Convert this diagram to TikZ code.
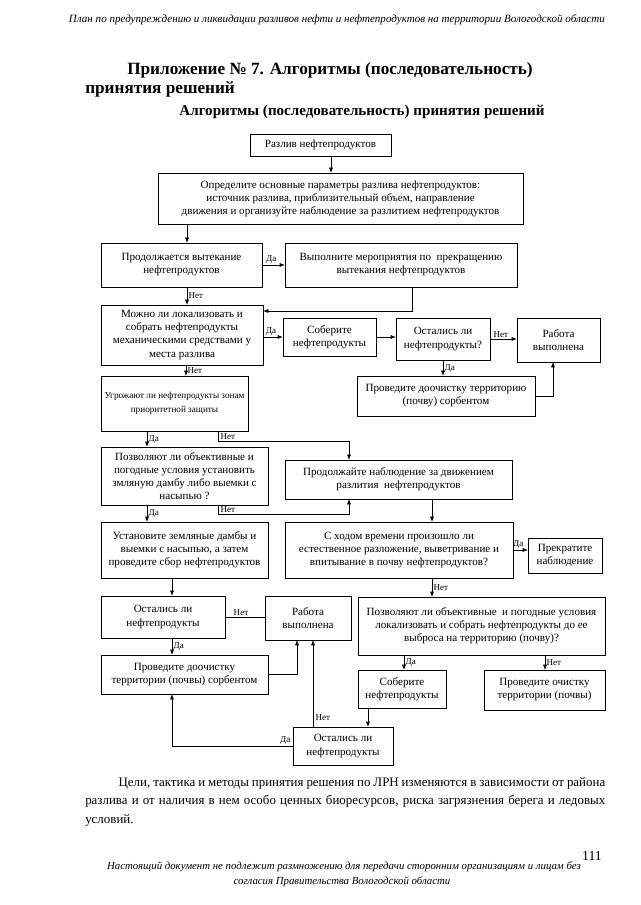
\documentclass[tikz,border=0pt]{standalone}
\usepackage{fontspec}
\setmainfont{Liberation Serif}
\usetikzlibrary{arrows.meta}
\tikzset{
  box/.style={draw, line width=0.6pt, inner sep=1pt, outer sep=0pt, align=center,
    font=\fontsize{8.3}{9.8}\selectfont},
  conn/.style={line width=0.5pt},
  arr/.style={conn, -{Latex[length=4pt,width=3pt]}},
  lbl/.style={font=\fontsize{6.8}{8}\selectfont, inner sep=1pt},
}
\newcommand\mybox[7][]{\node[box, #1, minimum width={(#5-#3)*0.75pt}, minimum height={(#6-#4)*0.75pt}] (#2) at ({(#3+#5)/2},{(#4+#6)/2}) {#7};}
\begin{document}
\begin{tikzpicture}[x=0.75pt,y=-0.75pt]
\useasboundingbox (0,0) rectangle (640,905);
\fill[white] (0,0) rectangle (640,905);
% header
\node[font=\itshape\fontsize{8.3}{9}\selectfont] (hdr) at (337,20) {План по предупреждению и ликвидации разливов нефти и нефтепродуктов на территории Вологодской области};
\node[anchor=west, font=\bfseries\fontsize{12.9}{15}\selectfont, inner sep=0pt] (t1) at (127,70) {Приложение № 7. Алгоритмы (последовательность)};
\node[anchor=west, font=\bfseries\fontsize{12.9}{15}\selectfont, inner sep=0pt] (t2) at (85,89) {принятия решений};
\node[font=\bfseries\fontsize{11.3}{14}\selectfont, inner sep=0pt] (t3) at (362,112) {Алгоритмы (последовательность) принятия решений};
% boxes
\mybox{A}{250}{134}{391}{156}{Разлив нефтепродуктов}
\mybox{B}{158}{173}{523}{224}{Определите основные параметры разлива нефтепродуктов:\\ источник разлива, приблизительный объем, направление\\ движения и организуйте наблюдение за разлитием нефтепродуктов}
\mybox{C}{101}{243}{262}{287}{Продолжается вытекание\\ нефтепродуктов}
\mybox{D}{285}{243}{517}{287}{Выполните мероприятия по\ \ прекращению\\ вытекания нефтепродуктов}
\mybox{E}{101}{305}{263}{365}{Можно ли локализовать и\\ собрать нефтепродукты\\ механическими средствами у\\ места разлива}
\mybox{F}{283}{318}{376}{356}{Соберите\\ нефтепродукты}
\mybox{G}{396}{318}{490}{360}{Остались ли\\ нефтепродукты?}
\mybox{H}{517}{318}{600}{362}{Работа\\ выполнена}
\mybox{I}{357}{376}{535}{416}{Проведите доочистку территорию\\ (почву) сорбентом}
\mybox[font=\fontsize{6.9}{10.5}\selectfont, inner sep=0pt]{J}{101}{376}{248}{431}{Угрожают ли нефтепродукты зонам\\ приоритетной защиты}
\mybox{K}{101}{447}{268}{505}{Позволяют ли объективные и\\ погодные условия установить\\ змляную дамбу либо выемки с\\ насыпью ?}
\mybox{L}{285}{460}{512}{499}{Продолжайте наблюдение за движением\\ разлития\ \ нефтепродуктов}
\mybox{M}{101}{522}{268}{578}{Установите земляные дамбы и\\ выемки с насыпью, а затем\\ проведите сбор нефтепродуктов}
\mybox{N}{285}{522}{513}{578}{С ходом времени произошло ли\\ естественное разложение, выветривание и\\ впитывание в почву нефтепродуктов?}
\mybox{O}{528}{538}{602}{573}{Прекратите\\ наблюдение}
\mybox{P}{358}{597}{605}{655}{Позволяют ли объективные\ \ и погодные условия\\ локализовать и собрать нефтепродукты до ее\\ выброса на территорию (почву)?}
\mybox{Q}{101}{596}{225}{638}{Остались ли\\ нефтепродукты}
\mybox{R}{265}{596}{351}{640}{Работа\\ выполнена}
\mybox{S}{101}{655}{268}{694}{Проведите доочистку\\ территории (почвы) сорбентом}
\mybox{T}{358}{670}{446}{708}{Соберите\\ нефтепродукты}
\mybox{U}{484}{670}{605}{710}{Проведите очистку\\ территории (почвы)}
\mybox{V}{293}{727}{393}{765}{Остались ли\\ нефтепродукты}
% connectors
\draw[arr] (A.south -| 331,0) -- (B.north -| 331,0);
\draw[arr] (B.south -| 187,0) -- (C.north -| 187,0);
\draw[arr] (C.east) -- (D.west |- C.east) node[lbl, pos=0.4, above] {Да};
\draw[arr] (C.south -| 187,0) -- (E.north -| 187,0) node[lbl, midway, right] {Нет};
\draw[arr] (D.south -| 412,0) |- (E.east |- 0,311);
\draw[arr] (E.east |- F.west) -- (F.west) node[lbl, pos=0.4, above] {Да};
\draw[arr] (F.east) -- (G.west |- F.east);
\draw[arr] (G.east) -- (H.west |- G.east) node[lbl, pos=0.4, above] {Нет};
\draw[arr] (G.south) -- (G.south |- I.north) node[lbl, midway, right] {Да};
\draw[arr] (I.east) -| (H.south -| 553,0);
\draw[arr] (E.south -| 186,0) -- (J.north -| 186,0) node[lbl, midway, right] {Нет};
\draw[arr] (J.south -| 147,0) -- (K.north -| 147,0) node[lbl, midway, right] {Да};
\draw[arr] (J.south -| 218,0) -- (218,441) -| (L.north -| 349,0);
\node[lbl, anchor=south west] (nt1) at (219,441) {Нет};
\draw[arr] (K.south -| 218,0) -- (218,514) -| (L.south -| 349,0);
\node[lbl, anchor=south west] (nt2) at (219,514) {Нет};
\draw[arr] (K.south -| 147,0) -- (M.north -| 147,0) node[lbl, midway, right] {Да};
\draw[arr] (L.south -| 432,0) -- (N.north -| 432,0);
\draw[arr] (N.east) -- (O.west |- N.east) node[lbl, pos=0.35, above] {Да};
\draw[arr] (N.south -| 432,0) -- (P.north -| 432,0) node[lbl, midway, right] {Нет};
\draw[arr] (M.south -| 172,0) -- (Q.north -| 172,0);
\draw[conn] (Q.east) -- (R.west |- Q.east) node[lbl, pos=0.4, above] {Нет};
\draw[arr] (Q.south -| 172,0) -- (S.north -| 172,0) node[lbl, midway, right] {Да};
\draw[arr] (S.east) -| (R.south -| 297,0);
\draw[arr] (P.south -| 404,0) -- (T.north -| 404,0) node[lbl, midway, right] {Да};
\draw[arr] (P.south -| 545,0) -- (U.north -| 545,0) node[lbl, midway, right] {Нет};
\draw[arr] (T.south -| 368,0) -- (V.north -| 368,0);
\draw[arr] (V.north -| 313,0) -- (R.south -| 313,0);
\node[lbl, anchor=west] (nt3) at (314,718) {Нет};
\draw[arr] (V.west) -| (S.south -| 172,0);
\node[lbl, anchor=south east] (da3) at (292,746) {Да};
% paragraph
\node[anchor=north west, text width=390pt, align=justify, inner sep=0pt,
  font=\fontsize{9.7}{13.9}\selectfont] (par) at (85,777)
  {\hspace*{25pt}Цели, тактика и методы принятия решения по ЛРН изменяются в зависимости от района\linebreak разлива и от наличия в нем особо ценных биоресурсов, риска загрязнения берега и ледовых\linebreak условий.};
\node[font=\fontsize{10.3}{12}\selectfont] (pg) at (592,856) {111};
\node[font=\itshape\fontsize{8.1}{9}\selectfont] (f1) at (344,867) {Настоящий документ не подлежит размножению для передачи сторонним организациям и лицам без};
\node[font=\itshape\fontsize{8.1}{9}\selectfont] (f2) at (342,882) {согласия Правительства Вологодской области};
\end{tikzpicture}
\end{document}
